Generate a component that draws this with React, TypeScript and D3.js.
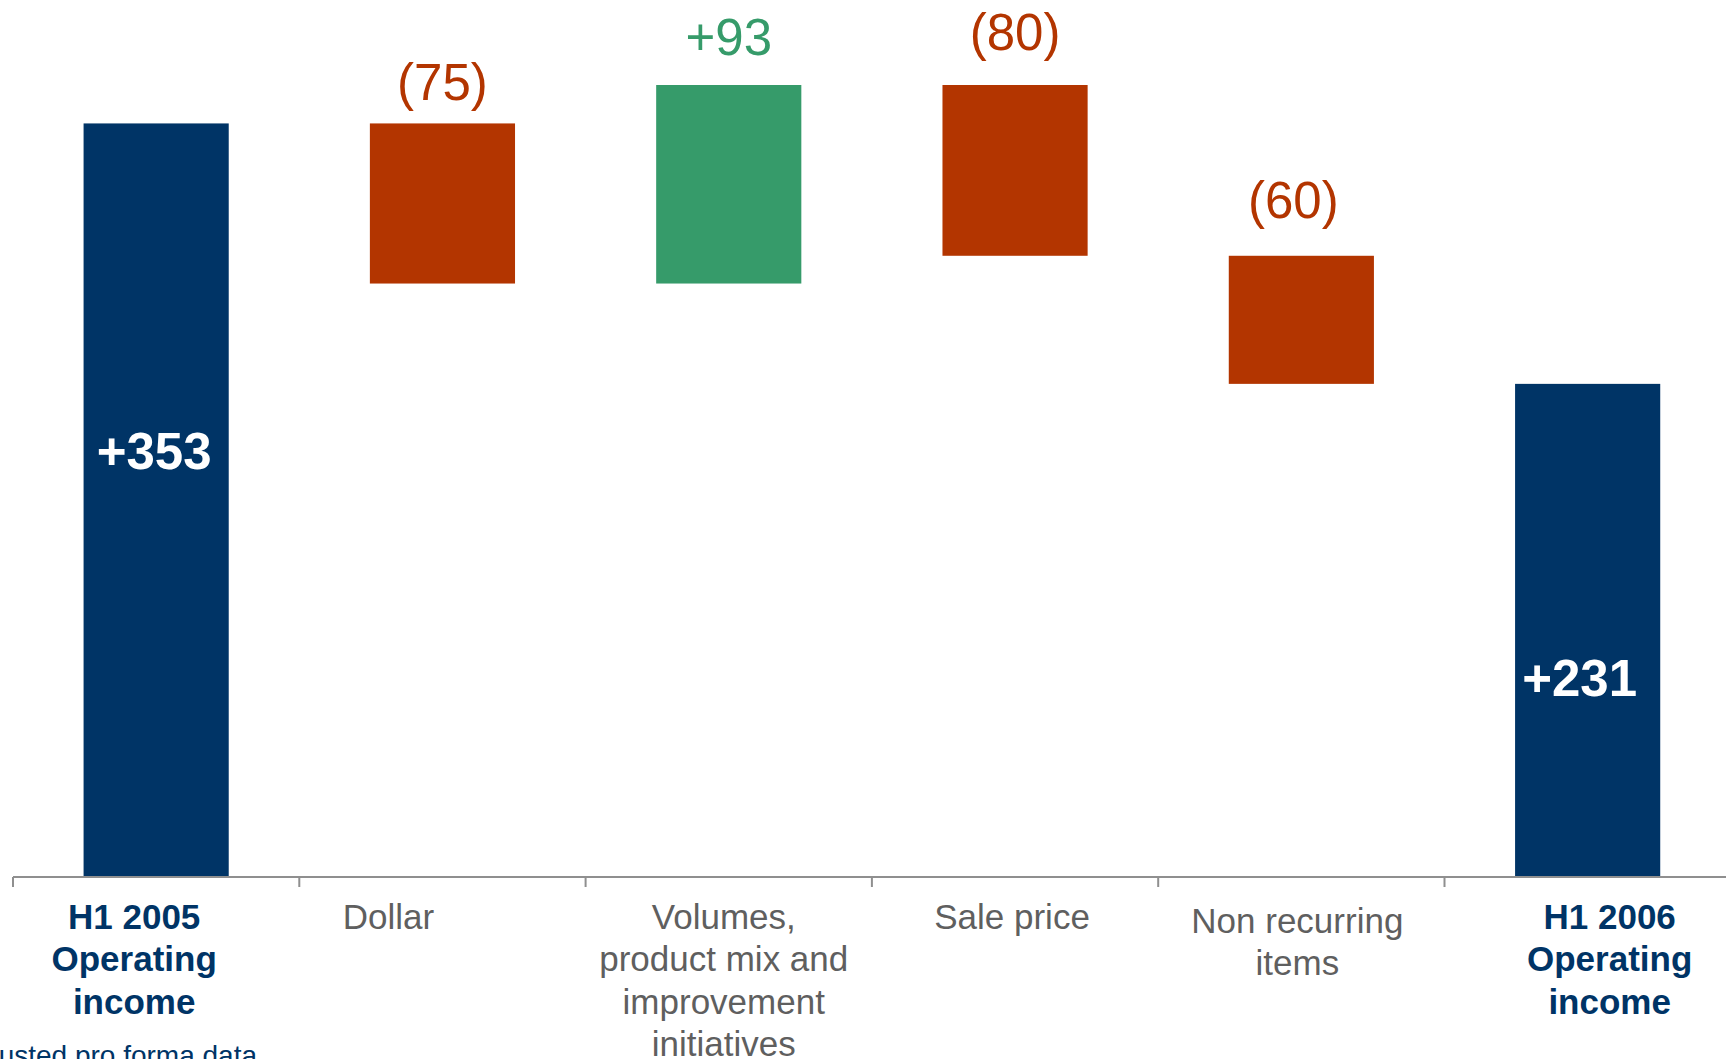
import React from "react";
import * as d3 from "d3";

const categories = ["start", "dollar", "volumes", "salePrice", "nonRecurring", "end"];
const categoryLabels: string[][] = [
  ["H1 2005", "Operating", "income"],
  ["Dollar"],
  ["Volumes,", "product mix and", "improvement", "initiatives"],
  ["Sale price"],
  ["Non recurring", "items"],
  ["H1 2006", "Operating", "income"],
];
const kinds = ["total", "delta", "delta", "delta", "delta", "total"];
const values = [353, -75, 93, -80, -60, 231];
const valueLabels = ["+353", "(75)", "+93", "(80)", "(60)", "+231"];
const footnote = "Adjusted pro forma data";

const W = 1726;
const H = 1059;
const NAVY = "#003466";
const RED = "#B33500";
const GREEN = "#369B6A";
const GRAY_TEXT = "#5f5f5f";
const AXIS = "#8f8f8f";
const FONT = "'Liberation Sans', Arial, Helvetica, sans-serif";

export default function App() {
  const axisY = 877;
  const x = d3.scaleBand<string>().domain(categories).range([13, 13 + 6 * 286.3]).padding(0);
  const y = d3.scaleLinear().domain([0, 371]).range([axisY, 85]);
  const step = x.step();
  const barW = step * 0.507;

  // compute waterfall segments
  let running = 0;
  const segs = values.map((v, i) => {
    let lo: number, hi: number;
    if (kinds[i] === "total") {
      lo = 0;
      hi = v;
      running = v;
    } else {
      const next = running + v;
      lo = Math.min(running, next);
      hi = Math.max(running, next);
      running = next;
    }
    return { lo, hi, v, kind: kinds[i] };
  });

  const colorOf = (s: { v: number; kind: string }) =>
    s.kind === "total" ? NAVY : s.v >= 0 ? GREEN : RED;

  // label layout tweaks (styles)
  const deltaGap = [0, 23, 30, 35.5, 38, 0];
  const deltaDx = [0, 0, 0, 0, -8, 0];
  const totalLabelBaseline = [469, 0, 0, 0, 0, 696];
  const totalLabelDx = [-2, 0, 0, 0, 0, -8];
  const catDx = [-22, -54, -5, -3, -4, 22];
  const catDy = [0, 0, 0, 0, 4, 0];

  const ticks = categories.map((c) => x(c) as number);

  return (
    <svg
      width={W}
      height={H}
      style={{ position: "absolute", left: 0, top: 0, background: "#fff" }}
      fontFamily={FONT}
    >
      <rect x={0} y={0} width={W} height={H} fill="#fff" />
      {segs.map((s, i) => {
        const cx = (x(categories[i]) as number) + step / 2;
        return (
          <rect
            key={"b" + i}
            x={cx - barW / 2}
            y={y(s.hi)}
            width={barW}
            height={y(s.lo) - y(s.hi)}
            fill={colorOf(s)}
          />
        );
      })}
      {/* value labels */}
      {segs.map((s, i) => {
        const cx = (x(categories[i]) as number) + step / 2;
        if (s.kind === "total") {
          return (
            <text
              key={"v" + i}
              x={cx + totalLabelDx[i]}
              y={totalLabelBaseline[i]}
              textAnchor="middle"
              fontSize={51}
              fontWeight="bold"
              fill="#fff"
            >
              {valueLabels[i]}
            </text>
          );
        }
        return (
          <text
            key={"v" + i}
            x={cx + deltaDx[i]}
            y={y(s.hi) - deltaGap[i]}
            textAnchor="middle"
            fontSize={51}
            fill={colorOf(s)}
          >
            {valueLabels[i]}
          </text>
        );
      })}
      {/* axis */}
      <line x1={13} x2={W} y1={axisY} y2={axisY} stroke={AXIS} strokeWidth={2} />
      {ticks.map((t, i) => (
        <line key={"t" + i} x1={t} x2={t} y1={axisY} y2={axisY + 10} stroke={AXIS} strokeWidth={2} />
      ))}
      {/* category labels */}
      {categoryLabels.map((lines, i) => {
        const cx = (x(categories[i]) as number) + step / 2 + catDx[i];
        const total = kinds[i] === "total";
        return (
          <text
            key={"c" + i}
            textAnchor="middle"
            fontSize={35}
            fontWeight={total ? "bold" : "normal"}
            fill={total ? NAVY : GRAY_TEXT}
          >
            {lines.map((ln, j) => (
              <tspan key={j} x={cx} y={929 + catDy[i] + j * 42.4}>
                {ln}
              </tspan>
            ))}
          </text>
        );
      })}
      <text x={257} y={1065} textAnchor="end" fontSize={28} fill={NAVY}>
        {footnote}
      </text>
    </svg>
  );
}
